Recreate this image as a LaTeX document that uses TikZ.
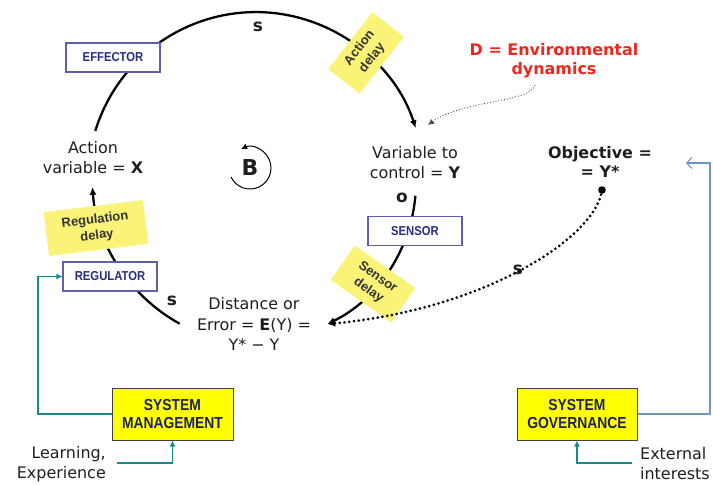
\documentclass[tikz,border=0pt]{standalone}
\usepackage{fontspec}
\setmainfont{DejaVu Sans}
\newfontfamily\boxfont[FakeStretch=0.87]{Liberation Sans}
\newfontfamily\tagfont{Liberation Sans}
\usetikzlibrary{arrows.meta}

\definecolor{navy}{RGB}{40,45,130}
\definecolor{boxline}{RGB}{95,95,175}
\definecolor{tagyellow}{RGB}{250,243,120}
\definecolor{sysyellow}{RGB}{255,255,0}
\definecolor{tealline}{RGB}{20,140,140}
\definecolor{govblue}{RGB}{110,150,200}
\definecolor{envred}{RGB}{235,40,30}
\definecolor{ink}{RGB}{30,30,30}

\begin{document}
\begin{tikzpicture}[x=1bp,y=1bp,
  every node/.style={inner sep=0pt, text=ink},
  unitbox/.style={draw=boxline, line width=1.1pt, fill=white,
    minimum width=94bp, minimum height=29bp,
    font=\boxfont\bfseries\fontsize{13}{14}\selectfont, text=navy},
  sysbox/.style={draw=black!75, line width=1pt, fill=sysyellow,
    minimum width=121bp, minimum height=52bp, align=center,
    font=\boxfont\bfseries\fontsize{16}{19}\selectfont, text=navy!70!black},
  delaytag/.style={fill=tagyellow, inner sep=0pt, align=center,
    font=\tagfont\bfseries\fontsize{13}{16}\selectfont, text=black!80},
  vartext/.style={align=center, font=\fontsize{16}{20}\selectfont},
  sidetext/.style={font=\fontsize{16}{20}\selectfont},
  polarity/.style={font=\bfseries\fontsize{17}{18}\selectfont},
  loopline/.style={line width=2.3pt, draw=black, -{Latex[length=8bp,width=7bp]}},
  goalline/.style={line width=3pt, line cap=round, dash pattern=on 0pt off 4.8bp,
    -{Latex[length=8bp,width=7bp]}},
  envline/.style={line width=0.9pt, draw=black!70, dotted,
    -{Latex[length=6bp,width=6bp]}},
  mgmtline/.style={line width=1.1pt, draw=tealline,
    -{Latex[length=6bp,width=6bp]}},
  govline/.style={line width=1.1pt, draw=govblue,
    -{Straight Barb[length=5bp,width=11bp]}},
]
\useasboundingbox (0,0) rectangle (713,-485);

% ---- balancing loop: solid causal links ----
\coordinate (xtop) at (95.3,-131);
\coordinate (yin) at (415.8,-128.1);
\coordinate (errout) at (179.6,-323.7);
\coordinate (xin) at (92.4,-186.9);
\coordinate (yout) at (415.4,-195.8);
\coordinate (errin) at (327.3,-324);

% X -> effector -> Y (upper arc)
\draw[loopline] (xtop) arc[start angle=163, end angle=18, radius=168];
% error -> regulator -> X (lower left arc)
\draw[loopline] (errout) arc[start angle=241, end angle=184, radius=170];
% Y -> sensor -> error (lower right arc)
\draw[loopline] (yout) arc[start angle=-5, end angle=-64, radius=158];

% ---- boxes on the loop ----
\node[unitbox] (effector) at (113,-57.5) {EFFECTOR};
\node[unitbox] (regulator) at (110,-276.5) {REGULATOR};
\node[unitbox] (sensor) at (415,-231) {SENSOR};

% ---- delay tags ----
\node[delaytag, rotate=52, minimum width=72bp, minimum height=40bp] (actdelay) at (366,-53) {Action\\delay};
\node[delaytag, rotate=7, minimum width=100bp, minimum height=44bp] (regdelay) at (96,-228) {Regulation\\delay};
\node[delaytag, rotate=-35, minimum width=74bp, minimum height=42bp] (sensdelay) at (373,-284) {Sensor\\delay};

% ---- variables ----
\node[vartext] (actvar) at (93,-158) {Action\\variable = \textbf{X}};
\node[vartext] (ctrlvar) at (415,-163) {Variable to\\control = \textbf{Y}};
\node[vartext, font=\bfseries\fontsize{16}{19}\selectfont] (objective) at (600,-162) {Objective =\\= Y*};
\node[vartext, font=\fontsize{16}{21}\selectfont] (error) at (254,-324) {Distance or\\Error = \textbf{E}(Y) =\\Y* − Y};
\node[vartext, font=\bfseries\fontsize{16}{19}\selectfont, text=envred] (envdyn) at (554,-60.5) {D = Environmental\\dynamics};

% ---- polarity marks ----
\node[polarity] (s1) at (258,-27) {s};
\node[polarity] (s2) at (172,-301) {s};
\node[polarity] (o1) at (402,-198) {o};
\node[polarity] (s3) at (518,-270) {s};

% ---- loop type ----
\node[font=\bfseries\fontsize{22}{24}\selectfont] (loopB) at (250,-168) {B};
\draw[line width=1pt, -{Latex[length=6bp,width=6bp]}] (loopB.center) ++(205:21) arc[start angle=205, end angle=475, radius=21];

% ---- objective link (dotted) ----
\fill (602,-190) circle[radius=3.8] coordinate (objdot);
\draw[goalline] (objdot) .. controls (595,-240) and (480,-310) .. (errin);

% ---- environmental dynamics link ----
\coordinate (envstart) at (535,-85);
\coordinate (envtip) at (428,-125);
\draw[envline] (envstart) .. controls (530,-103) and (462,-100) .. (envtip);

% ---- management and governance ----
\node[sysbox] (sysman) at (172.5,-414) {SYSTEM\\MANAGEMENT};
\node[sysbox, minimum width=120bp] (sysgov) at (577,-414) {SYSTEM\\GOVERNANCE};

\node[sidetext, align=right, anchor=east] (learning) at (106,-464) {Learning,\\Experience};
\node[sidetext, align=left, anchor=west] (external) at (640,-464) {External\\interests};

\coordinate (learnstart) at (117,-463);
\coordinate (extstart) at (632,-463);

\draw[mgmtline] (sysman.west) -- (38,-414) -- (38,-276.5) -- (regulator.west);
\draw[mgmtline] (learnstart) -| (sysman.south);
\draw[mgmtline] (extstart) -| (sysgov.south);
\coordinate (govtip) at (686,-163);
\draw[govline] (sysgov.east) -- (710,-414) -- (710,-163) -- (govtip);

\end{tikzpicture}
\end{document}
